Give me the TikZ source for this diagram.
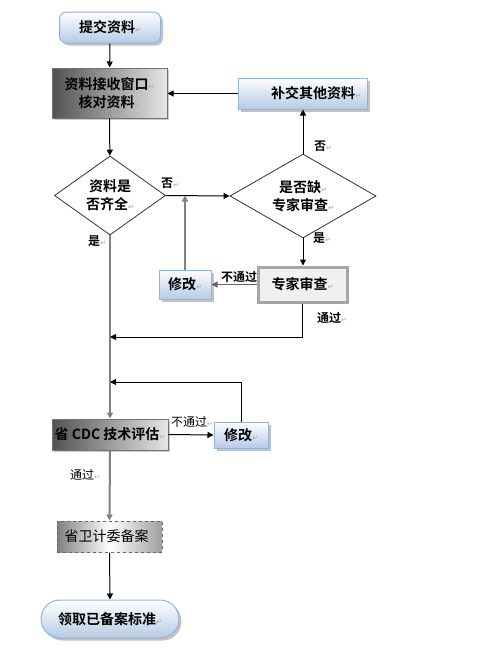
\documentclass[tikz,border=0pt]{standalone}
\usepackage{fontspec}
\setmainfont{Noto Sans CJK SC}[BoldFont={Noto Sans CJK SC Bold}]
\newfontfamily\symf{DejaVu Sans}
\newfontfamily\wmf{DejaVu Sans Mono}
\usetikzlibrary{shapes.geometric,arrows.meta,shadows}
\definecolor{bbord}{HTML}{95B3D7}
\definecolor{bbot}{HTML}{B4CBE6}
\pgfdeclarehorizontalshading{recsh}{100bp}{color(0bp)=(black!50); color(25bp)=(black!50); color(50bp)=(white); color(75bp)=(black!38); color(100bp)=(black!38)}
\newcommand\rt{{\symf\color{gray!60}\fontsize{7}{7}\selectfont ↵}}
\tikzset{
  bluebox/.style={draw=bbord, line width=1pt, top color=white, bottom color=bbot,
    drop shadow={shadow xshift=2.5pt, shadow yshift=-2.5pt, fill=black!40, opacity=0.6},
    inner sep=0pt, align=center},
  graybox/.style={draw=black!55, line width=1pt, left color=black!68, right color=black!10,
    drop shadow={shadow xshift=1.5pt, shadow yshift=-1.5pt, fill=black!40, opacity=0.5},
    inner sep=0pt, align=center},
  dia/.style={diamond, draw=black!80, line width=0.8pt, fill=white, inner sep=0pt, align=center},
  arr/.style={draw=black, line width=1pt, -{Triangle[length=6pt,width=6pt]}},
  arrg/.style={draw=black!50, line width=2pt, -{Triangle[length=6pt,width=6pt]}, shorten >=0pt},
  lab/.style={font=\fontsize{12}{12}\selectfont\bfseries, inner sep=0pt},
  labr/.style={font=\fontsize{12}{12}\selectfont, inner sep=0pt},
}
\begin{document}
\begin{tikzpicture}[x=1pt,y=-1pt, font=\fontsize{14}{18}\selectfont\bfseries]
\useasboundingbox (0,0) rectangle (488,648);

% nodes
\node[bluebox, rounded corners=7, minimum width=101, minimum height=31] (submit) at (110,27.5) {提交资料\rt};
\node[graybox, minimum width=115, minimum height=50] (recv) at (109.5,93) {资料接收窗口\rt\\核对资料\rt};
\node[bluebox, minimum width=129, minimum height=31, text width=117, align=right] (supp) at (302.5,93.5) {补交其他资料\rt};
\node[dia, minimum width=111, minimum height=79, aspect=1.4] (d1) at (110,195.5) {资料是\\否齐全\rt};
\node[dia, minimum width=146, minimum height=84, aspect=1.74] (d2) at (303,196) {是否缺\rt\\专家审查\rt};
\node[bluebox, minimum width=52, minimum height=29] (mod1) at (185,284.5) {修改\rt};
\node[lab] (l5) at (239,277) {不通过};
\node[draw=black!35, line width=3pt, fill=black!6, minimum width=89, minimum height=35, inner sep=0pt] (expert) at (302.5,284.5) {专家审查\rt};
\node[graybox, minimum width=116, minimum height=31] (cdc) at (110,434.5) {省 CDC 技术评估\rt};
\node[bluebox, minimum width=54, minimum height=26] (mod2) at (241,435) {修改\rt};
\node[draw=black!60, dashed, line width=1pt, shading=recsh,
      minimum width=105, minimum height=31, inner sep=0pt, font=\fontsize{14}{18}\selectfont] (rec) at (109.5,536.5) {省卫计委备案\rt};
\node[bluebox, rounded corners=19, minimum width=138, minimum height=38] (final) at (110,619) {领取已备案标准\rt};
\node[font=\wmf\fontsize{11}{11}\selectfont, text=black!18, inner sep=0pt] (wm) at (112,633) {i2012.51sole.co};

\coordinate (j1) at (110,337);
\coordinate (j2) at (110,382);

% connectors
\draw[arr] (submit) -- (recv);
\draw[arr] (supp.west) -- (supp.west -| recv.east);
\draw[arr] (recv) -- (d1);
\draw[arrg] (d1.south) -- (cdc.north);
\draw[arr] (d1.east) -- (d2.west);
\draw[arr] (d2.north) -- (d2.north |- supp.south);
\draw[arr] (d2.south) -- (d2.south |- expert.north);
\draw[arrg, draw=black!60, line width=1.5pt] (expert.west) -- (mod1.east);
\draw[arrg] (mod1.north) -- (mod1.north |- d1.east);
\draw[arr] (expert.south) |- (j1);
\draw[arr] (cdc.east) -- (mod2.west);
\draw[arr] (mod2.north) |- (j2);
\draw[arrg] (cdc.south) -- (rec.north);
\draw[arr] (rec.south) -- (final.north);

% labels
\node[lab] (l1) at (170,183) {否\rt};
\node[lab] (l2) at (97,241) {是\rt};
\node[lab] (l3) at (323,146) {否\rt};
\node[lab] (l4) at (322,238) {是\rt};
\node[lab] (l6) at (332,318) {通过\rt};
\node[labr] (l7) at (192,422) {不通过\rt};
\node[labr] (l8) at (85,475) {通过\rt};
\end{tikzpicture}
\end{document}
